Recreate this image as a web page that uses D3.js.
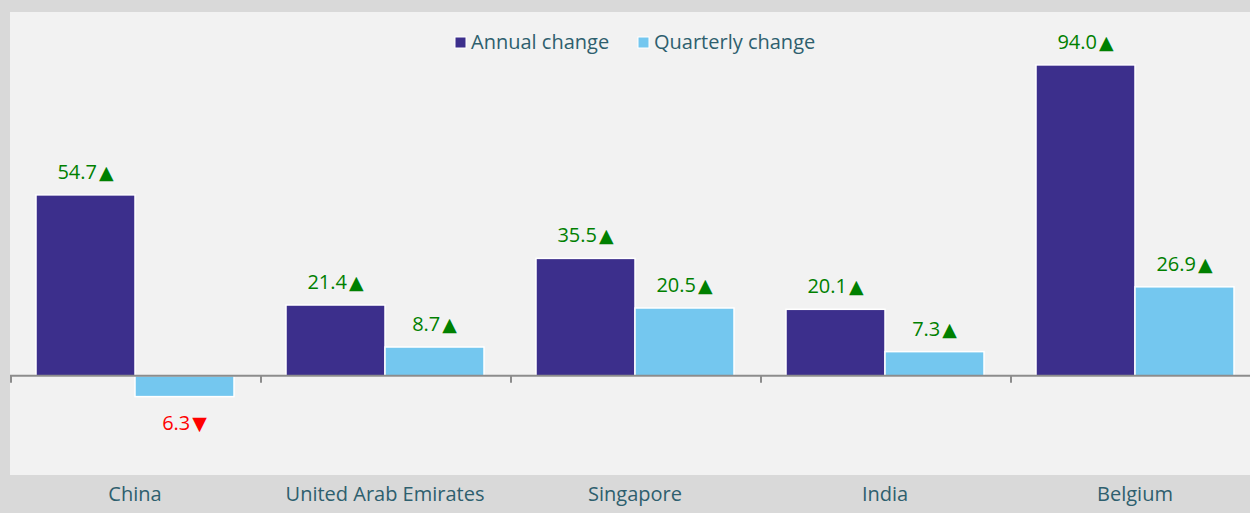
<!DOCTYPE html>
<html>
<head>
<meta charset="utf-8">
<script src="https://cdn.jsdelivr.net/npm/d3@7"></script>
<style>
  html, body { margin: 0; padding: 0; background: #d9d9d9; }
  svg { display: block; }
  text { font-family: "Open Sans", "Noto Sans", sans-serif; }
</style>
</head>
<body>
<svg id="chart" width="1250" height="513"></svg>
<script>
var categories = ["China", "United Arab Emirates", "Singapore", "India", "Belgium"];
var seriesNames = ["Annual change", "Quarterly change"];
var annualChange = [54.7, 21.4, 35.5, 20.1, 94.0];
var quarterlyChange = [-6.3, 8.7, 20.5, 7.3, 26.9];
var seriesColors = ["#3c2f8c", "#74c7ef"];

var width = 1250, height = 513;
var plot = { left: 10, top: 12, right: 1260, bottom: 475 };

var svg = d3.select("#chart");

// plot background
svg.append("rect")
  .attr("x", plot.left)
  .attr("y", plot.top)
  .attr("width", plot.right - plot.left)
  .attr("height", plot.bottom - plot.top)
  .attr("fill", "#f2f2f2");

var x0 = d3.scaleBand().domain(categories).range([plot.left, plot.right]);
var x1 = d3.scaleBand().domain(seriesNames).range([26, 224]);
var y = d3.scaleLinear().domain([-30, 110]).range([plot.bottom, plot.top]);

var rows = categories.map(function(c, i) {
  return { category: c, values: [annualChange[i], quarterlyChange[i]] };
});

var groups = svg.selectAll("g.cat")
  .data(rows).enter()
  .append("g")
  .attr("class", "cat")
  .attr("transform", function(d) { return "translate(" + x0(d.category) + ",0)"; });

groups.selectAll("rect")
  .data(function(d) {
    return d.values.map(function(v, i) { return { name: seriesNames[i], value: v, idx: i }; });
  }).enter()
  .append("rect")
  .attr("x", function(d) { return x1(d.name); })
  .attr("width", x1.bandwidth())
  .attr("y", function(d) { return y(Math.max(0, d.value)); })
  .attr("height", function(d) { return Math.abs(y(d.value) - y(0)); })
  .attr("fill", function(d) { return seriesColors[d.idx]; })
  .attr("stroke", "#ffffff")
  .attr("stroke-width", 1.5);

// value labels
var labels = groups.selectAll("text.val")
  .data(function(d) {
    return d.values.map(function(v, i) { return { name: seriesNames[i], value: v }; });
  }).enter()
  .append("text")
  .attr("class", "val")
  .attr("x", function(d) { return x1(d.name) + x1.bandwidth() / 2; })
  .attr("y", function(d) { return d.value >= 0 ? y(d.value) - 16 : y(d.value) + 33; })
  .attr("text-anchor", "middle")
  .attr("font-size", 20)
  .attr("fill", function(d) { return d.value >= 0 ? "#008000" : "#ff0000"; });

labels.append("tspan")
  .text(function(d) { return Math.abs(d.value).toFixed(1); });
labels.append("tspan")
  .attr("dx", 2)
  .attr("font-family", "DejaVu Sans")
  .attr("font-size", 19)
  .text(function(d) { return d.value >= 0 ? "\u25B2" : "\u25BC"; });

// zero axis line and ticks
svg.append("line")
  .attr("x1", plot.left)
  .attr("x2", plot.right)
  .attr("y1", y(0))
  .attr("y2", y(0))
  .attr("stroke", "#8c8c8c")
  .attr("stroke-width", 2);

svg.selectAll("line.tick")
  .data(categories).enter()
  .append("line")
  .attr("class", "tick")
  .attr("x1", function(d) { return x0(d) + 1; })
  .attr("x2", function(d) { return x0(d) + 1; })
  .attr("y1", y(0))
  .attr("y2", y(0) + 7)
  .attr("stroke", "#8c8c8c")
  .attr("stroke-width", 2);

// category labels
svg.selectAll("text.cat")
  .data(categories).enter()
  .append("text")
  .attr("class", "cat")
  .attr("x", function(d) { return x0(d) + x0.bandwidth() / 2; })
  .attr("y", 501)
  .attr("text-anchor", "middle")
  .attr("font-size", 20)
  .attr("fill", "#2e5f6e")
  .text(function(d) { return d; });

// legend
var legendX = [455, 638];
var legend = svg.selectAll("g.legend")
  .data(seriesNames).enter()
  .append("g")
  .attr("class", "legend")
  .attr("transform", function(d, i) { return "translate(" + legendX[i] + ",37)"; });

legend.append("rect")
  .attr("width", 11)
  .attr("height", 11)
  .attr("fill", function(d, i) { return seriesColors[i]; })
  .attr("stroke", "#ffffff")
  .attr("stroke-width", 1);

legend.append("text")
  .attr("x", 16)
  .attr("y", 12)
  .attr("font-size", 20)
  .attr("fill", "#2e5f6e")
  .text(function(d) { return d; });
</script>
</body>
</html>
